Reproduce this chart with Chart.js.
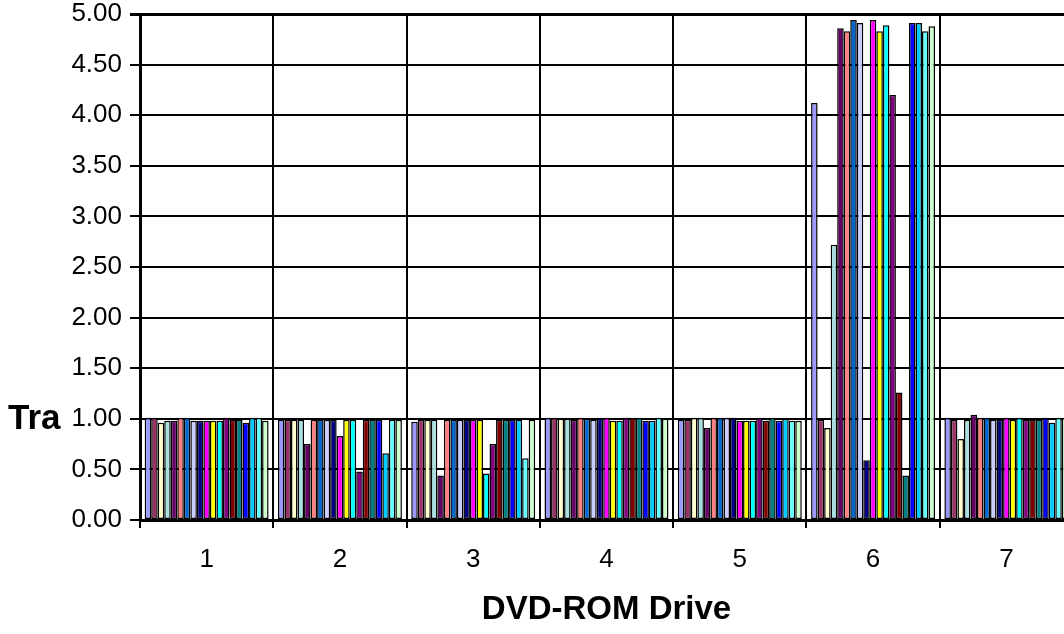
<!DOCTYPE html>
<html>
<head>
<meta charset="utf-8">
<title>DVD-ROM Drive</title>
<script src="https://cdn.jsdelivr.net/npm/chart.js@4.4.1/dist/chart.umd.min.js"></script>
<style>
    html, body { margin: 0; padding: 0; background: #fff; overflow: hidden; }
    canvas { display: block; }
</style>
</head>
<body>
<canvas id="driveChart" width="1080" height="634" style="width:1080px;height:634px"></canvas>
<script>
// Categories (DVD-ROM drives) and y tick labels
const drives = ['1', '2', '3', '4', '5', '6', '7'];
const yTicks = ['0.00', '0.50', '1.00', '1.50', '2.00', '2.50', '3.00', '3.50', '4.00', '4.50', '5.00'];

// One array per test series, one value per drive
const series01 = [1.01, 0.99, 0.97, 1.01, 0.99, 4.12, 1.01];
const series02 = [1.01, 0.99, 0.99, 1.01, 0.99, 0.99, 0.99];
const series03 = [0.96, 0.99, 0.99, 1.00, 1.01, 0.91, 0.80];
const series04 = [0.98, 0.99, 0.99, 1.00, 1.01, 2.72, 0.99];
const series05 = [0.98, 0.75, 0.44, 0.99, 0.91, 4.86, 1.04];
const series06 = [1.01, 0.99, 0.99, 1.01, 1.01, 4.83, 1.01];
const series07 = [1.01, 0.99, 0.99, 1.00, 1.01, 4.94, 1.01];
const series08 = [0.98, 0.99, 0.99, 0.99, 1.01, 4.91, 0.99];
const series09 = [0.98, 0.99, 0.99, 1.01, 1.01, 0.59, 0.99];
const series10 = [0.98, 0.83, 0.99, 1.01, 0.98, 4.94, 1.01];
const series11 = [0.98, 0.99, 0.99, 0.98, 0.98, 4.83, 0.99];
const series12 = [0.98, 0.99, 0.46, 0.98, 0.98, 4.89, 1.01];
const series13 = [1.01, 0.48, 0.75, 1.01, 1.01, 4.20, 0.99];
const series14 = [0.99, 0.99, 0.99, 1.01, 0.98, 1.26, 0.99];
const series15 = [0.99, 0.99, 0.99, 1.01, 1.01, 0.44, 0.99];
const series16 = [0.96, 0.99, 0.99, 0.98, 0.98, 4.91, 1.01];
const series17 = [1.01, 0.66, 0.99, 0.98, 1.00, 4.91, 0.96];
const series18 = [1.01, 0.99, 0.61, 1.01, 0.98, 4.83, 1.01];
const series19 = [0.98, 0.99, 0.99, 1.00, 0.98, 4.88, 1.01];

const allSeries = [series01, series02, series03, series04, series05, series06, series07,
    series08, series09, series10, series11, series12, series13, series14, series15,
    series16, series17, series18, series19];

// old Excel chart palette
const fills = ['#9999FF', '#993366', '#FFFFCC', '#A8E0E0', '#660066', '#FF8080', '#0066CC',
    '#CCCCFF', '#000080', '#FF00FF', '#FFFF00', '#00FFFF', '#800080', '#800000', '#008080',
    '#0000FF', '#00CCFF', '#66FFFF', '#CCFFCC'];

const FONT = '"Liberation Sans", Arial, sans-serif';

// cut-off y axis title drawn horizontally, as in the original
const yTitle = {
    id: 'yTitle',
    afterDraw(chart) {
        const ctx = chart.ctx;
        ctx.save();
        ctx.font = 'bold 35px ' + FONT;
        ctx.fillStyle = '#000';
        ctx.textAlign = 'left';
        ctx.textBaseline = 'middle';
        ctx.fillText('Tra', 8, chart.scales.y.getPixelForValue(1) + 1);
        ctx.restore();
    }
};

new Chart(document.getElementById('driveChart'), {
    type: 'bar',
    data: {
        labels: drives,
        datasets: allSeries.map((vals, i) => ({
            label: 'Series ' + (i + 1),
            data: vals,
            backgroundColor: fills[i],
            borderColor: '#000',
            borderWidth: 1.5,
            borderSkipped: false,
            categoryPercentage: 0.93,
            barPercentage: 1.0
        }))
    },
    options: {
        responsive: false,
        animation: false,
        events: [],
        layout: { padding: { top: 14, right: 7, left: 0, bottom: 0 } },
        plugins: {
            legend: { display: false },
            tooltip: { enabled: false }
        },
        scales: {
            x: {
                offset: true,
                afterFit(scale) { scale.height = 114; scale.paddingLeft = 0; scale.paddingRight = 0; },
                grid: { color: '#000', lineWidth: 2, tickLength: 8, offset: true },
                border: { color: '#000', width: 3 },
                ticks: { color: '#000', font: { family: FONT, size: 26 }, padding: 16 },
                title: {
                    display: true,
                    text: 'DVD-ROM Drive',
                    color: '#000',
                    font: { family: FONT, size: 33, weight: 'bold' },
                    padding: { top: 10, bottom: 4 }
                }
            },
            y: {
                min: 0,
                max: 5,
                afterFit(scale) { scale.width = 140; scale.paddingTop = 0; scale.paddingBottom = 0; },
                afterBuildTicks(scale) {
                    scale.ticks = yTicks.map(t => ({ value: parseFloat(t) }));
                },
                grid: {
                    color: '#000',
                    lineWidth: ctx => (ctx.index === yTicks.length - 1 ? 3 : 2),
                    tickLength: 10
                },
                border: { color: '#000', width: 3 },
                ticks: {
                    color: '#000',
                    font: { family: FONT, size: 26 },
                    padding: 8,
                    callback: (v, i) => yTicks[i]
                }
            }
        }
    },
    plugins: [yTitle]
});
</script>
</body>
</html>
